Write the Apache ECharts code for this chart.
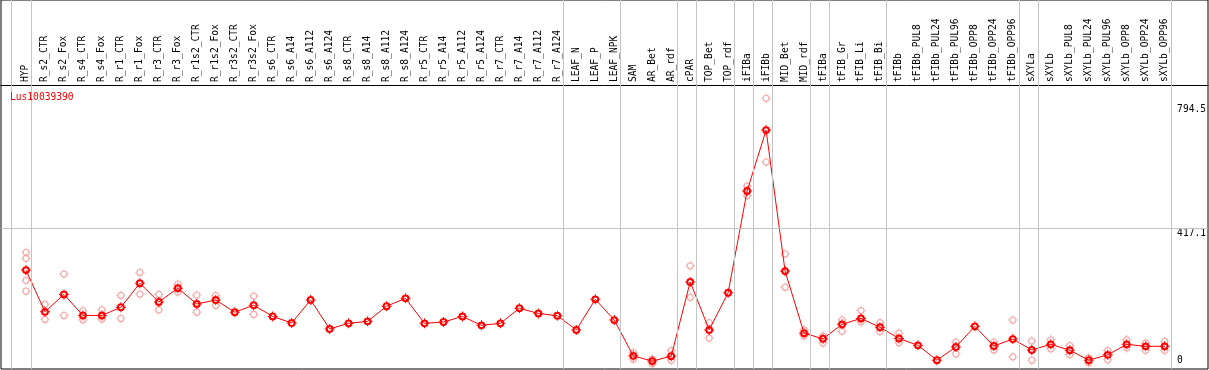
<!DOCTYPE html>
<html>
<head>
<meta charset="utf-8">
<script src="https://cdn.jsdelivr.net/npm/echarts@6/dist/echarts.min.js"></script>
<style>
html,body{margin:0;padding:0;background:#fff;}
#chart{width:1209px;height:370px;}
</style>
</head>
<body>
<div id="chart"></div>
<script>
const seriesName = 'Lus10039390';
const categories = ['HYP','R_s2_CTR','R_s2_Fox','R_s4_CTR','R_s4_Fox','R_r1_CTR','R_r1_Fox','R_r3_CTR','R_r3_Fox',
  'R_r1s2_CTR','R_r1s2_Fox','R_r3s2_CTR','R_r3s2_Fox','R_s6_CTR','R_s6_A14','R_s6_A112','R_s6_A124',
  'R_s8_CTR','R_s8_A14','R_s8_A112','R_s8_A124','R_r5_CTR','R_r5_A14','R_r5_A112','R_r5_A124',
  'R_r7_CTR','R_r7_A14','R_r7_A112','R_r7_A124','LEAF_N','LEAF_P','LEAF_NPK','SAM','AR_Bet','AR_rdf',
  'cPAR','TOP_Bet','TOP_rdf','iFIBa','iFIBb','MID_Bet','MID_rdf','tFIBa','tFIB_Gr','tFIB_Li','tFIB_Bi',
  'tFIBb','tFIBb_PUL8','tFIBb_PUL24','tFIBb_PUL96','tFIBb_OPP8','tFIBb_OPP24','tFIBb_OPP96',
  'sXYLa','sXYLb','sXYLb_PUL8','sXYLb_PUL24','sXYLb_PUL96','sXYLb_OPP8','sXYLb_OPP24','sXYLb_OPP96'];
const means = [290,163,216,152,152,177,250,193,235,
  187,199,162,183,149,129,199,111,
  128,134,180,204,128,132,149,122,
  128,174,158,151,108,201,138,29,13,28,
  254,108,221,531,716,287,98,81,125,143,116,
  82,61,16,56,119,59,80,
  47,64,46,16,32,64,58,58];
const replicates = [[344,326,259,226],[186,140],[278,152],[166,139],[169,141],[213,143],[283,217],[216,169],[247,223],
  [214,162],[212,182],[],[211,155],[],[],[],[],
  [],[],[],[],[],[],[],[],
  [],[],[],[],[],[],[],[39,19],[19,5],[45,16],
  [303,207],[130,83],[],[546,516],[813,619],[339,238],[108,90],[90,68],[138,104],[167,132],[130,103],
  [98,69],[],[],[71,35],[],[71,47],[138,26],
  [74,16],[78,51],[60,33],[23,8],[45,17],[78,54],[68,46],[73,46]];
const yLabelValues = [417.1, 794.5];
const yZeroLabel = [0];
const yGridValue = 417.1;
// last category of each group (a separator is drawn after each)
const groupEnds = ['HYP','R_r7_A124','LEAF_NPK','AR_rdf','cPAR','TOP_rdf','iFIBa','iFIBb','MID_rdf','tFIBa',
  'tFIB_Bi','tFIBb_OPP96','sXYLa','sXYLb_OPP96'];

const Y_MIN = -11, Y_MAX = 1112;
const FONT = 'DejaVu Sans Mono';
const n = categories.length;

// hollow ring with four small ticks
const ticks = ' M9,0 H11 V3 H9 Z M9,17 H11 V20 H9 Z M0,9 H3 V11 H0 Z M17,9 H20 V11 H17 Z';
const meanSymbol = 'path://M10,2.2 A7.8,7.8 0 1 1 9.999,2.2 Z M10,6.2 A3.8,3.8 0 1 0 10.001,6.2 Z' + ticks;
const repSymbol = 'path://M10,2.4 A7.6,7.6 0 1 1 9.999,2.4 Z M10,5 A5,5 0 1 0 10.001,5 Z' + ticks;

const separators = [{xAxis: -0.8}].concat(groupEnds.map(c => ({xAxis: categories.indexOf(c) + 0.25})));
separators.push({yAxis: yGridValue});

const repData = [];
replicates.forEach((arr, i) => arr.forEach(v => repData.push([categories[i], v])));

const chart = echarts.init(document.getElementById('chart'), null, {renderer: 'canvas'});
chart.setOption({
  animation: false,
  backgroundColor: '#fff',
  title: {
    text: seriesName, left: 10, top: 92, padding: 0,
    textStyle: {color: '#ff0000', fontFamily: FONT, fontSize: 9.6, fontWeight: 'normal'}
  },
  grid: [
    {left: 1, right: 1, top: 0, bottom: 1, show: true, borderColor: '#000', borderWidth: 1, backgroundColor: 'transparent'},
    {left: 16.5, right: 1209 - 16.5 - 19 * n, top: 0, bottom: 1}
  ],
  xAxis: [
    {type: 'value', gridIndex: 0, min: -1.3158, max: 62.2105, position: 'top', offset: -85,
      axisLine: {show: true, onZero: false, lineStyle: {color: '#000', width: 1}}, axisTick: {show: false},
      axisLabel: {show: false}, splitLine: {show: false}},
    {type: 'category', gridIndex: 1, data: categories, position: 'top', offset: -85, boundaryGap: true,
      axisLine: {show: false}, axisTick: {show: false}, splitLine: {show: false},
      axisLabel: {interval: 0, rotate: 90, margin: 3, color: '#000', fontFamily: FONT, fontSize: 9.6}}
  ],
  yAxis: [
    {type: 'value', gridIndex: 0, min: Y_MIN, max: Y_MAX, show: false, splitLine: {show: false}},
    {type: 'value', gridIndex: 1, min: Y_MIN, max: Y_MAX, position: 'right',
      axisLine: {show: false}, axisTick: {show: false}, splitLine: {show: false},
      axisLabel: {customValues: yLabelValues, margin: 3, verticalAlign: 'top', color: '#000', fontFamily: FONT, fontSize: 9.6}},
    {type: 'value', gridIndex: 1, min: Y_MIN, max: Y_MAX, position: 'right',
      axisLine: {show: false}, axisTick: {show: false}, splitLine: {show: false},
      axisLabel: {customValues: yZeroLabel, margin: 3, verticalAlign: 'bottom', color: '#000', fontFamily: FONT, fontSize: 9.6}}
  ],
  series: [
    {type: 'line', xAxisIndex: 0, yAxisIndex: 0, data: [], silent: true,
      markLine: {silent: true, symbol: ['none', 'none'], label: {show: false},
        lineStyle: {color: '#c4c4c4', type: 'solid', width: 1}, emphasis: {disabled: true},
        data: separators}},
    {name: seriesName + ' replicates', type: 'scatter', xAxisIndex: 1, yAxisIndex: 1, data: repData,
      symbol: repSymbol, symbolSize: 9.5, z: 3,
      itemStyle: {color: '#f29a9a', borderWidth: 0}},
    {name: seriesName, type: 'line', xAxisIndex: 1, yAxisIndex: 1, data: means,
      symbol: meanSymbol, symbolSize: 10, z: 4, showAllSymbol: true,
      lineStyle: {color: '#ff0000', width: 1},
      itemStyle: {color: '#ff0000', borderWidth: 0}}
  ]
});
</script>
</body>
</html>
